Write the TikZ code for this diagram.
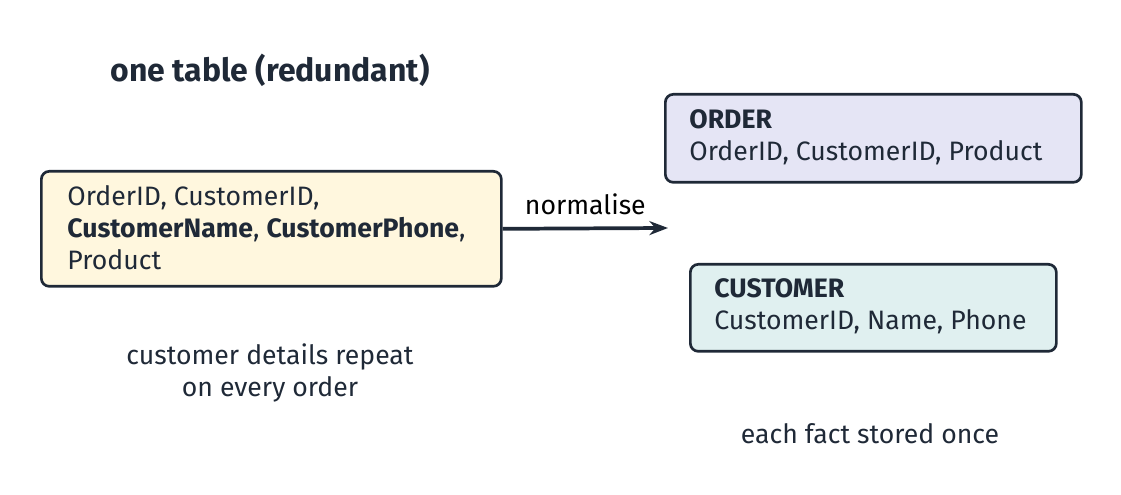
\documentclass[tikz,border=0pt]{standalone}
\usepackage{fontspec}
\setmainfont{Fira Sans}
\usetikzlibrary{arrows.meta,positioning}
\definecolor{ink}{HTML}{1F2937}
\tikzstyle{table} = [draw=ink, line width=1pt, rounded corners=3pt, align=left, anchor=north west, inner sep=0pt, text=ink]
\tikzstyle{note} = [draw=none, align=center, text=ink]
\tikzstyle{flow} = [draw=ink, line width=1.4pt, -{Stealth[length=7pt]}]
\begin{document}
\begin{tikzpicture}[x=0.0132cm, y=-0.0132cm]
		\useasboundingbox (0,0) rectangle (1121,495);
		% the tables
		\node[table, fill=yellow!60!orange!12, minimum width=460*0.0132cm, minimum height=115*0.0132cm] (single) at (40,170) {};
		\node[note, align=left, anchor=west] at (58,228) {OrderID, CustomerID,\\\textbf{CustomerName}, \textbf{CustomerPhone},\\Product};
		\node[table, fill=cyan!25!blue!10, minimum width=416*0.0132cm, minimum height=88*0.0132cm] (order) at (664,93) {};
		\node[note, align=left, anchor=west] at (680,137) {\textbf{ORDER}\\OrderID, CustomerID, Product};
		\node[table, fill=teal!12, minimum width=366*0.0132cm, minimum height=87*0.0132cm] (customer) at (689,263) {};
		\node[note, align=left, anchor=west] at (705,306) {\textbf{CUSTOMER}\\CustomerID, Name, Phone};
		
		% arrow and notes
		\coordinate (split) at (668,228);
		\path[flow] (single.east) ++(18pt*0.0132/0.0132*0,0) -- (split) node[midway, above=1pt, text=black] {normalise};
		\node[note, font=\large\bfseries] (title) at (270,70) {one table (redundant)};
		\node[note] (repeat) at (270,373) {customer details repeat\\on every order};
		\node[note] (once) at (870,434) {each fact stored once};
\end{tikzpicture}
\end{document}
